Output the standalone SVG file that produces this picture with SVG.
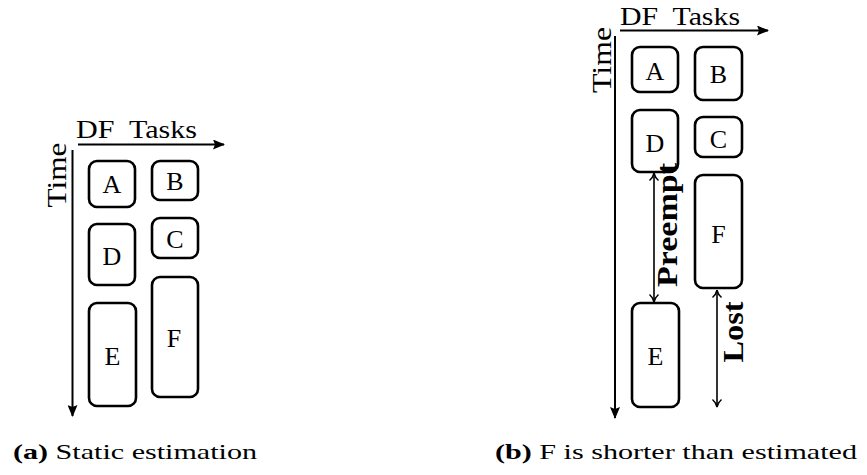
<svg xmlns="http://www.w3.org/2000/svg" width="867" height="475" viewBox="0 0 867 475">
<defs>
<style>
text{font-family:"Liberation Serif","DejaVu Serif",serif;fill:#000}
.lbl{font-size:26px;text-anchor:middle}
.ax{font-size:26px;white-space:pre}
.rt{font-size:28px;text-anchor:middle}
.pl{font-size:30px;font-weight:bold;text-anchor:middle}
.box{fill:#fff;stroke:#000;stroke-width:2.6}
.axis{stroke:#000;stroke-width:2;fill:none}
.dim{stroke:#000;stroke-width:1.6;fill:none}
.b{font-weight:bold}
.cap{font-size:21px}
</style>
<marker id="tri" viewBox="0 0 12 10" refX="11" refY="5" markerWidth="12" markerHeight="10" markerUnits="userSpaceOnUse" orient="auto">
<path d="M0,0 L12,5 L0,10 L2,5 Z" fill="#000"/>
</marker>
<marker id="vee" viewBox="0 0 10 10" refX="9.5" refY="5" markerWidth="10" markerHeight="10" markerUnits="userSpaceOnUse" orient="auto-start-reverse">
<path d="M2,0.5 Q5,4 9.5,5 Q5,6 2,9.5" fill="none" stroke="#000" stroke-width="1.5"/>
</marker>
</defs>
<!-- Panel (a) -->
<g id="connectors-a">
<line class="axis" x1="78" y1="144.5" x2="224" y2="144.5" marker-end="url(#tri)"/>
<line class="axis" x1="72.5" y1="150" x2="72.5" y2="416" marker-end="url(#tri)"/>
</g>
<text class="ax" x="76" y="138" textLength="121" lengthAdjust="spacingAndGlyphs">DF  Tasks</text>
<text class="rt" textLength="65" lengthAdjust="spacingAndGlyphs" transform="translate(66,175) rotate(-90)">Time</text>
<g id="a-A"><rect class="box" x="89" y="161" width="46" height="46" rx="8"/><text class="lbl" x="112" y="193">A</text></g>
<g id="a-B"><rect class="box" x="152" y="161" width="46" height="39" rx="8"/><text class="lbl" x="175" y="190">B</text></g>
<g id="a-D"><rect class="box" x="89" y="224" width="46" height="61" rx="8"/><text class="lbl" x="112" y="265">D</text></g>
<g id="a-C"><rect class="box" x="152" y="218" width="46" height="40" rx="8"/><text class="lbl" x="175" y="248">C</text></g>
<g id="a-E"><rect class="box" x="89" y="303" width="47" height="103" rx="8"/><text class="lbl" x="112.5" y="365">E</text></g>
<g id="a-F"><rect class="box" x="152" y="277" width="46" height="120" rx="8"/><text class="lbl" x="174" y="347">F</text></g>
<text class="cap" x="13" y="459" textLength="244" lengthAdjust="spacingAndGlyphs"><tspan class="b">(a)</tspan> Static estimation</text>
<!-- Panel (b) -->
<g id="connectors-b">
<line class="axis" x1="620" y1="30.5" x2="768" y2="30.5" marker-end="url(#tri)"/>
<line class="axis" x1="615" y1="36" x2="615" y2="418" marker-end="url(#tri)"/>
<line class="dim" x1="654" y1="173" x2="654" y2="302" marker-start="url(#vee)" marker-end="url(#vee)"/>
<line class="dim" x1="717" y1="290" x2="717" y2="407" marker-start="url(#vee)" marker-end="url(#vee)"/>
</g>
<text class="ax" x="620" y="25" textLength="120" lengthAdjust="spacingAndGlyphs">DF  Tasks</text>
<text class="rt" textLength="66" lengthAdjust="spacingAndGlyphs" transform="translate(611,60) rotate(-90)">Time</text>
<g id="b-A"><rect class="box" x="632" y="47" width="46" height="45" rx="8"/><text class="lbl" x="655" y="80">A</text></g>
<g id="b-B"><rect class="box" x="695" y="47" width="47" height="53" rx="8"/><text class="lbl" x="718.5" y="83">B</text></g>
<g id="b-D"><rect class="box" x="632" y="110" width="46" height="62" rx="8"/><text class="lbl" x="655" y="152">D</text></g>
<g id="b-C"><rect class="box" x="695" y="117" width="47" height="40" rx="8"/><text class="lbl" x="718.5" y="148">C</text></g>
<g id="b-F"><rect class="box" x="695" y="175" width="47" height="113" rx="8"/><text class="lbl" x="718.5" y="243">F</text></g>
<g id="b-E"><rect class="box" x="632" y="303" width="47" height="104" rx="8"/><text class="lbl" x="655.5" y="365">E</text></g>
<text class="pl" textLength="124" lengthAdjust="spacingAndGlyphs" transform="translate(677,225) rotate(-90)">Preempt</text>
<text class="pl" textLength="61" lengthAdjust="spacingAndGlyphs" transform="translate(743,332) rotate(-90)">Lost</text>
<text class="cap" x="495" y="459" textLength="362" lengthAdjust="spacingAndGlyphs"><tspan class="b">(b)</tspan> F is shorter than estimated</text>
</svg>
